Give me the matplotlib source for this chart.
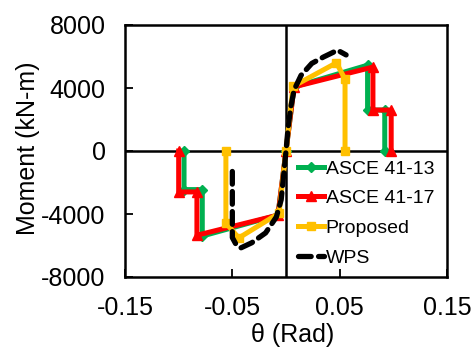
import matplotlib
matplotlib.use("Agg")
import matplotlib.pyplot as plt

plt.rcParams['font.family'] = ['Liberation Sans', 'DejaVu Sans']
plt.rcParams['axes.unicode_minus'] = False

# ASCE 41-13 backbone
asce13_theta = [-0.095, -0.095, -0.078, -0.078, -0.0075, 0.0, 0.0075, 0.076, 0.076, 0.092, 0.092]
asce13_m = [0, -2450, -2450, -5400, -4070, 0, 4070, 5450, 2600, 2600, 0]

# ASCE 41-17 backbone
asce17_theta = [-0.100, -0.100, -0.083, -0.083, -0.0075, 0.0, 0.0075, 0.081, 0.081, 0.098, 0.098]
asce17_m = [0, -2600, -2600, -5350, -4070, 0, 4070, 5330, 2600, 2600, 0]

# Proposed
prop_theta = [-0.056, -0.056, -0.044, -0.0065, 0.0, 0.0065, 0.047, 0.055, 0.055]
prop_m = [0, -4570, -5520, -3950, 0, 4100, 5600, 4550, 0]

# WPS
wps_theta = [-0.050, -0.050, -0.046, -0.042, -0.032, -0.019, -0.009, -0.0045, -0.002, 0.0,
             0.002, 0.0045, 0.0075, 0.014, 0.024, 0.035, 0.048, 0.056]
wps_m = [-1300, -5500, -6000, -6150, -5830, -5200, -4190, -3100, -1400, 0,
         1500, 2800, 3870, 4800, 5560, 5970, 6400, 6100]

xticks = [-0.15, -0.05, 0.05, 0.15]
xtick_labels = ['-0.15', '-0.05', '0.05', '0.15']
yticks = [-8000, -4000, 0, 4000, 8000]

W, H = 476, 347
fig = plt.figure(figsize=(W / 100, H / 100), dpi=100)
ax = fig.add_axes([125 / W, 1 - 277 / H, (447 - 125) / W, (277 - 25) / H])

ax.axhline(0, color='black', lw=1.8, zorder=1)
ax.axvline(0, color='black', lw=1.8, zorder=1)

ax.plot(asce13_theta, asce13_m, color='#00B050', lw=3.6, marker='D', ms=5,
        label='ASCE 41-13', zorder=2)
ax.plot(asce17_theta, asce17_m, color='#FF0000', lw=3.6, marker='^', ms=7,
        label='ASCE 41-17', zorder=3)
ax.plot(prop_theta, prop_m, color='#FFC000', lw=3.6, marker='s', ms=6,
        label='Proposed', zorder=4)
ax.plot(wps_theta, wps_m, color='black', lw=3.8, dashes=(2.4, 1.4),
        dash_capstyle='round', label='WPS', zorder=5)

ax.set_xlim(-0.15, 0.15)
ax.set_ylim(-8000, 8000)
ax.set_xticks(xticks)
ax.set_xticklabels(xtick_labels)
ax.set_yticks(yticks)
ax.tick_params(direction='in', length=6, width=1.3, labelsize=18, pad=14)
for s in ax.spines.values():
    s.set_linewidth(1.8)

ax.set_xlabel('θ (Rad)', fontsize=18)
ax.set_ylabel('Moment (kN-m)', fontsize=18)
ax.xaxis.set_label_coords((293 - 125) / (447 - 125), -(335 - 277) / (277 - 25))
ax.yaxis.set_label_coords(-(125 - 28) / (447 - 125), (277 - 148) / (277 - 25))
ax.xaxis.label.set_va('center')
ax.yaxis.label.set_va('center')

leg = ax.legend(loc='upper left', bbox_to_anchor=((304 - 125) / (447 - 125) - 0.02,
                                                   (277 - 160) / (277 - 25)),
                frameon=False, fontsize=14, handlelength=1.35, handletextpad=0.1,
                labelspacing=0.62, borderaxespad=0.0, borderpad=0.0)

fig.savefig('out.png', dpi=100)
